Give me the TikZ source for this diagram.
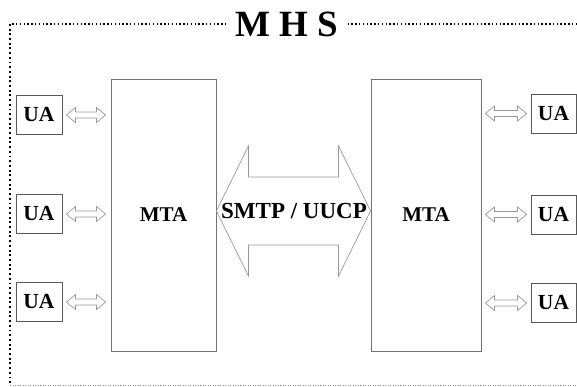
\documentclass[tikz,border=0pt]{standalone}
\usepackage{fontspec}
\setmainfont{Liberation Serif}
\usetikzlibrary{calc}

% outlined double arrow between two points (#3 shaft half, #4 head half, #5 head length)
\newcommand{\fatarrow}[5]{%
  \draw[fat] let \p1=#1, \p2=#2 in
    (\x1,\y1) -- (\x1+#5,\y1+#4) -- (\x1+#5,\y1+#3) -- (\x2-#5,\y1+#3)
    -- (\x2-#5,\y1+#4) -- (\x2,\y1) -- (\x2-#5,\y1-#4) -- (\x2-#5,\y1-#3)
    -- (\x1+#5,\y1-#3) -- (\x1+#5,\y1-#4) -- cycle;}

\begin{document}
\begin{tikzpicture}[
  x=1pt, y=-1pt,
  box/.style={rectangle, draw=black!55, line width=0.9pt, inner sep=0pt},
  mta/.style={box, minimum height=272pt, font=\fontsize{21}{24}\selectfont\bfseries},
  ua/.style={box, draw=black!65, minimum width=46pt, minimum height=39pt,
             font=\fontsize{21.5}{23}\selectfont\bfseries},
  fat/.style={draw=black!40, line width=0.7pt},
  frame/.style={line width=1.5pt, dash pattern=on 1.5pt off 2.3pt}
]
\useasboundingbox (0,0) rectangle (577,387);
% title and dotted frame
\node[font=\fontsize{37}{40}\selectfont\bfseries, inner xsep=9pt] (mhs) at (287,24) {M H S};
\draw[frame] (mhs.west) -- (10,24);
\draw[frame] (mhs.east) -- (577,24);
\draw[frame, line width=1.9pt, dash pattern=on 1.9pt off 2.8pt] (10,24) -- (10,385);
\draw[frame, line width=0.7pt, black!45, dash pattern=on 1pt off 1.5pt] (10,385) -- (577,385);
% transfer agents
\node[mta, minimum width=105pt] (mtaL) at (163.5,215) {MTA};
\node[mta, minimum width=110pt] (mtaR) at (426,215) {MTA};
\node[font=\fontsize{23}{25}\selectfont\bfseries] (proto) at (294,211) {SMTP / UUCP};
\fatarrow{(mtaL.east |- proto)}{(mtaR.west |- proto)}{34pt}{65pt}{32pt}
% user agents
\node[ua] (uaL1) at (39,115) {UA};
\node[ua] (uaL2) at (39,214) {UA};
\node[ua] (uaL3) at (39,302) {UA};
\node[ua, minimum width=45pt] (uaR1) at (553.5,113.5) {UA};
\node[ua, minimum width=45pt] (uaR2) at (553.5,214.5) {UA};
\node[ua, minimum width=45pt] (uaR3) at (553.5,303) {UA};
\foreach \i in {1,2,3} {
  \fatarrow{($(uaL\i.east)+(4,0)$)}{($(uaL\i.east -| mtaL.west)+(-5,0)$)}{3pt}{7.5pt}{9pt}
  \fatarrow{($(uaR\i.west -| mtaR.east)+(4,0)$)}{($(uaR\i.west)+(-4,0)$)}{3pt}{7.5pt}{9pt}
}
\end{tikzpicture}
\end{document}
